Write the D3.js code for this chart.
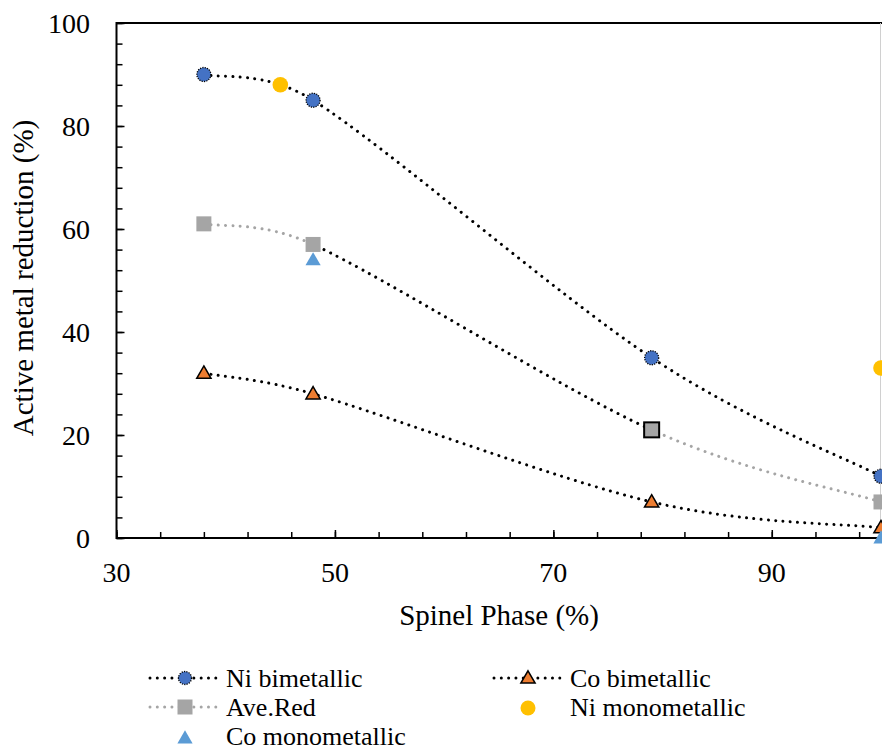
<!DOCTYPE html>
<html>
<head>
<meta charset="utf-8">
<script src="https://cdn.jsdelivr.net/npm/d3@7/dist/d3.min.js"></script>
</head>
<body style="margin:0">
<script>
// Spinel phase content (%) for the bimetallic samples
const spinel = [38, 48, 79, 100];
// Active metal reduction (%) per series
const niBimetallic = [90, 85, 35, 12];
const coBimetallic = [32, 28, 7, 2];
const aveRed = [61, 57, 21, 7];
// Monometallic reference points
const niMonoX = [45, 100];
const niMono = [88, 33];
const coMonoX = [48, 100];
const coMono = [54, 0];
// Axis ticks
const xTickLabels = [30, 50, 70, 90];
const yTickLabels = [0, 20, 40, 60, 80, 100];

const W = 882, H = 752;
const margin = { left: 116.5, right: 1, top: 23, bottom: 214 };

const svg = d3.select("body").append("svg").attr("width", W).attr("height", H)
  .style("display", "block");
svg.append("rect").attr("width", W).attr("height", H).attr("fill", "#fff");

const x = d3.scaleLinear().domain([30, 100]).range([margin.left, W - margin.right]);
const y = d3.scaleLinear().domain([0, 100]).range([H - margin.bottom, margin.top]);

const colors = {
  niBi: "#4472C4", coBi: "#ED7D31", ave: "#A5A5A5",
  niMono: "#FFC000", coMono: "#5B9BD5"
};
const dot = { width: 3, dash: "0.01 7.3" };

function label(sel, size) {
  return sel.style("font-family", '"Liberation Serif"').attr("font-size", size).attr("fill", "#000");
}

// Spreadsheet-style smoothing: cubic Bezier segments whose handles follow
// (P[i+1] - P[i-1]) / 6, each handle capped at half of its segment length.
function smoothCurve(context) {
  let pts = [];
  return {
    areaStart() {}, areaEnd() {},
    lineStart() { pts = []; },
    point(px, py) { pts.push([+px, +py]); },
    lineEnd() {
      const n = pts.length;
      if (!n) return;
      context.moveTo(pts[0][0], pts[0][1]);
      for (let i = 0; i < n - 1; i++) {
        const p0 = pts[i - 1] || pts[i], p1 = pts[i], p2 = pts[i + 1], p3 = pts[i + 2] || pts[i + 1];
        const lim = Math.hypot(p2[0] - p1[0], p2[1] - p1[1]) / 2;
        const handle = (a, b) => {
          let dx = (b[0] - a[0]) / 6, dy = (b[1] - a[1]) / 6;
          const len = Math.hypot(dx, dy);
          if (len > lim) { dx *= lim / len; dy *= lim / len; }
          return [dx, dy];
        };
        const h1 = handle(p0, p2), h2 = handle(p1, p3);
        context.bezierCurveTo(p1[0] + h1[0], p1[1] + h1[1], p2[0] - h2[0], p2[1] - h2[1], p2[0], p2[1]);
      }
    }
  };
}

// Plot frame: top border and right border
svg.append("line").attr("x1", x(30)).attr("x2", W).attr("y1", y(100)).attr("y2", y(100))
  .attr("stroke", "#000").attr("stroke-width", 2);
svg.append("line").attr("x1", W - 1.5).attr("x2", W - 1.5).attr("y1", y(100)).attr("y2", y(0))
  .attr("stroke", "#d0d0d0").attr("stroke-width", 1);

// Axes with inward major/minor ticks
const xMinor = d3.range(30, 100.01, 4);
const yMinor = d3.range(0, 100.01, 4);

function tickAxis(axis, values, size, transform) {
  const g = svg.append("g").attr("transform", transform);
  g.call(axis.tickValues(values).tickSize(size).tickFormat(""));
  g.selectAll(".tick line").attr("stroke-width", 1.5);
  g.selectAll(".tick text").remove();
  g.select(".domain").remove();
}
tickAxis(d3.axisTop(x), xMinor, 6, `translate(0,${y(0)})`);
tickAxis(d3.axisTop(x), xTickLabels, 8, `translate(0,${y(0)})`);
tickAxis(d3.axisRight(y), yMinor, 6, `translate(${x(30)},0)`);
tickAxis(d3.axisRight(y), yTickLabels, 8, `translate(${x(30)},0)`);

label(svg.append("g").selectAll("text").data(xTickLabels).join("text")
  .attr("x", d => x(d)).attr("y", y(0) + 44)
  .attr("text-anchor", "middle").text(d => d), 28);
label(svg.append("g").selectAll("text").data(yTickLabels).join("text")
  .attr("x", x(30) - 26.5).attr("y", d => y(d) + 10)
  .attr("text-anchor", "end").text(d => d), 28);

svg.append("line").attr("x1", x(30)).attr("x2", W).attr("y1", y(0)).attr("y2", y(0))
  .attr("stroke", "#000").attr("stroke-width", 2);
svg.append("line").attr("x1", x(30)).attr("x2", x(30)).attr("y1", y(0) + 1).attr("y2", y(100) - 1)
  .attr("stroke", "#000").attr("stroke-width", 2);

// Axis titles
label(svg.append("text").attr("x", 499).attr("y", 625)
  .attr("text-anchor", "middle").text("Spinel Phase (%)"), 29);
label(svg.append("text").attr("transform", `translate(33,278) rotate(-90)`)
  .attr("text-anchor", "middle").text("Active metal reduction (%)"), 29);

// Smoothed series lines
const line = d3.line().curve(smoothCurve).x(d => x(d[0])).y(d => y(d[1]));
const pts = vals => spinel.map((s, i) => [s, vals[i]]);

const defs = svg.append("defs");
defs.append("clipPath").attr("id", "clipMid").append("rect")
  .attr("x", x(48)).attr("y", 0).attr("width", x(79) - x(48)).attr("height", H);
const clipOut = defs.append("clipPath").attr("id", "clipOut");
clipOut.append("rect").attr("x", 0).attr("y", 0).attr("width", x(48)).attr("height", H);
clipOut.append("rect").attr("x", x(79)).attr("y", 0).attr("width", W - x(79)).attr("height", H);

function dotted(sel, color) {
  return sel.attr("fill", "none").attr("stroke", color).attr("stroke-width", dot.width)
    .attr("stroke-dasharray", dot.dash).attr("stroke-linecap", "round");
}

// Ave.Red: grey outer segments, black middle segment
dotted(svg.append("path").attr("d", line(pts(aveRed))).attr("clip-path", "url(#clipOut)"), colors.ave);
dotted(svg.append("path").attr("d", line(pts(aveRed))).attr("clip-path", "url(#clipMid)"), "#000");
dotted(svg.append("path").attr("d", line(pts(niBimetallic))), "#000");
dotted(svg.append("path").attr("d", line(pts(coBimetallic))), "#000");

// Markers
const tri = d3.symbol().type(d3.symbolTriangle).size(100);
const triSmall = d3.symbol().type(d3.symbolTriangle).size(88);

// Ave.Red squares (the 79 % point carries a black outline)
svg.append("g").selectAll("rect").data(pts(aveRed)).join("rect")
  .attr("x", d => x(d[0]) - 7.5).attr("y", d => y(d[1]) - 7.5)
  .attr("width", 15).attr("height", 15).attr("fill", colors.ave)
  .attr("stroke", d => d[0] === 79 ? "#000" : "none").attr("stroke-width", 2);

// Ni bimetallic circles with dotted outline
svg.append("g").selectAll("circle").data(pts(niBimetallic)).join("circle")
  .attr("cx", d => x(d[0])).attr("cy", d => y(d[1])).attr("r", 7)
  .attr("fill", colors.niBi).attr("stroke", "#000").attr("stroke-width", 1.3)
  .attr("stroke-dasharray", "1.2 1.2");

// Co bimetallic triangles
svg.append("g").selectAll("path").data(pts(coBimetallic)).join("path")
  .attr("d", triSmall).attr("transform", d => `translate(${x(d[0])},${y(d[1]) + 1})`)
  .attr("fill", colors.coBi).attr("stroke", "#000").attr("stroke-width", 1.5);

// Monometallic points
svg.append("g").selectAll("circle").data(niMonoX.map((v, i) => [v, niMono[i]])).join("circle")
  .attr("cx", d => x(d[0])).attr("cy", d => y(d[1])).attr("r", 7.8).attr("fill", colors.niMono);
svg.append("g").selectAll("path").data(coMonoX.map((v, i) => [v, coMono[i]])).join("path")
  .attr("d", tri).attr("transform", d => `translate(${x(d[0])},${y(d[1]) + 1})`)
  .attr("fill", colors.coMono);

// Legend
const legend = svg.append("g");
function legendLine(x0, x1, yy, color) {
  dotted(legend.append("line").attr("x1", x0).attr("x2", x1).attr("y1", yy).attr("y2", yy), color);
}
function legendText(tx, ty, str) {
  label(legend.append("text").attr("x", tx).attr("y", ty).text(str), 26);
}
// Row 1, column 1: Ni bimetallic
legendLine(150, 218, 678, "#000");
legend.append("circle").attr("cx", 185).attr("cy", 678).attr("r", 6.5)
  .attr("fill", colors.niBi).attr("stroke", "#000").attr("stroke-width", 1.3)
  .attr("stroke-dasharray", "1.2 1.2");
legendText(226, 687, "Ni bimetallic");
// Row 1, column 2: Co bimetallic
legendLine(494, 562, 678, "#000");
legend.append("path").attr("d", triSmall).attr("transform", "translate(528,679)")
  .attr("fill", colors.coBi).attr("stroke", "#000").attr("stroke-width", 1.5);
legendText(570, 687, "Co bimetallic");
// Row 2: Ave.Red and Ni monometallic
legendLine(150, 218, 707, colors.ave);
legend.append("rect").attr("x", 177.5).attr("y", 699.5).attr("width", 15).attr("height", 15)
  .attr("fill", colors.ave);
legendText(226, 716, "Ave.Red");
legend.append("circle").attr("cx", 528).attr("cy", 708).attr("r", 7.5).attr("fill", colors.niMono);
legendText(570, 716, "Ni monometallic");
// Row 3: Co monometallic
legend.append("path").attr("d", tri).attr("transform", "translate(185,739)").attr("fill", colors.coMono);
legendText(226, 745, "Co monometallic");
</script>
</body>
</html>
